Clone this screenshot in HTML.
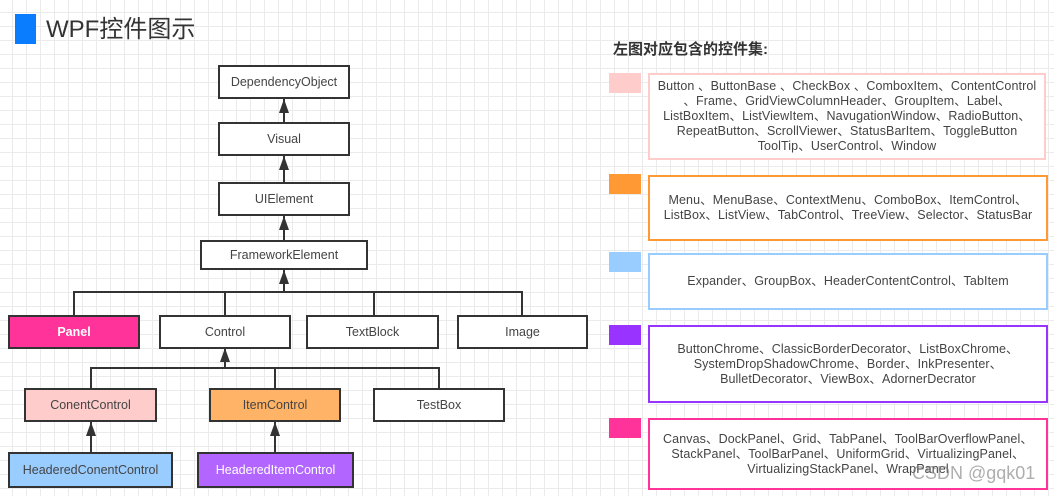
<!DOCTYPE html>
<html><head><meta charset="utf-8"><style>
body{margin:0;width:1054px;height:496px;overflow:hidden;background:#fff;
background-image:linear-gradient(#ebebeb 1px,transparent 1px),linear-gradient(90deg,#ebebeb 1px,transparent 1px);
background-size:14px 14px;background-position:0 12px, 12px 0;
font-family:"Liberation Sans","Noto Sans CJK SC",sans-serif;position:relative}
.b{position:absolute;box-sizing:border-box;border:2px solid #333;background:#fff;display:flex;align-items:center;justify-content:center;font-size:12.5px;color:#444}
.sw{position:absolute;width:32px;height:20px}
.r{position:absolute;box-sizing:border-box;border:2px solid;background:#fff;display:flex;align-items:center;justify-content:center;text-align:center;font-size:12.5px;color:#444;line-height:15px;white-space:nowrap;letter-spacing:0.1px}
</style></head><body>
<div style="position:absolute;left:15px;top:14px;width:21px;height:30px;background:#0a7dff"></div>
<div style="position:absolute;left:46px;top:14px;font-size:24px;color:#333;line-height:32px">WPF控件图示</div>

<svg style="position:absolute;left:0;top:0" width="600" height="496">
<g stroke="#333" stroke-width="2" fill="none">
<line x1="284" y1="99" x2="284" y2="122"/>
<line x1="284" y1="156" x2="284" y2="182"/>
<line x1="284" y1="216" x2="284" y2="240"/>
<line x1="284" y1="270" x2="284" y2="292"/>
<polyline points="74,315 74,292 522,292 522,315"/>
<line x1="225" y1="292" x2="225" y2="315"/>
<line x1="374" y1="292" x2="374" y2="315"/>
<line x1="225" y1="348" x2="225" y2="368"/>
<polyline points="91,388 91,368 439,368 439,388"/>
<line x1="275" y1="368" x2="275" y2="388"/>
<line x1="91" y1="422" x2="91" y2="452"/>
<line x1="275" y1="422" x2="275" y2="452"/>
</g>
<g fill="#333">
<polygon points="284,99 279,113 289,113"/>
<polygon points="284,156 279,170 289,170"/>
<polygon points="284,216 279,230 289,230"/>
<polygon points="284,270 279,284 289,284"/>
<polygon points="225,348 220,362 230,362"/>
<polygon points="91,422 86,436 96,436"/>
<polygon points="275,422 270,436 280,436"/>
</g></svg>

<div class="b" style="left:218px;top:65px;width:132px;height:34px">DependencyObject</div>
<div class="b" style="left:218px;top:122px;width:132px;height:34px">Visual</div>
<div class="b" style="left:218px;top:182px;width:132px;height:34px">UIElement</div>
<div class="b" style="left:200px;top:240px;width:168px;height:30px">FrameworkElement</div>
<div class="b" style="left:8px;top:315px;width:132px;height:34px;background:#ff3399;color:#fff;font-weight:bold">Panel</div>
<div class="b" style="left:159px;top:315px;width:132px;height:34px">Control</div>
<div class="b" style="left:306px;top:315px;width:133px;height:34px">TextBlock</div>
<div class="b" style="left:457px;top:315px;width:131px;height:34px">Image</div>
<div class="b" style="left:24px;top:388px;width:133px;height:34px;background:#ffcccc">ConentControl</div>
<div class="b" style="left:209px;top:388px;width:132px;height:34px;background:#ffb366">ItemControl</div>
<div class="b" style="left:373px;top:388px;width:132px;height:34px">TestBox</div>
<div class="b" style="left:8px;top:452px;width:165px;height:36px;background:#99ccff">HeaderedConentControl</div>
<div class="b" style="left:197px;top:452px;width:157px;height:36px;background:#b266ff;color:#fff">HeaderedItemControl</div>

<div style="position:absolute;left:613px;top:38px;font-size:15px;font-weight:bold;color:#333">左图对应包含的控件集:</div>

<div class="sw" style="left:609px;top:73px;background:#ffcccc"></div>
<div class="r" style="left:648px;top:73px;width:398px;height:87px;border-color:#ffcccc">Button 、ButtonBase 、CheckBox 、ComboxItem、ContentControl<br>、Frame、GridViewColumnHeader、GroupItem、Label、<br>ListBoxItem、ListViewItem、NavugationWindow、RadioButton、<br>RepeatButton、ScrollViewer、StatusBarItem、ToggleButton<br>ToolTip、UserControl、Window</div>
<div class="sw" style="left:609px;top:174px;background:#ff9933"></div>
<div class="r" style="left:648px;top:175px;width:400px;height:66px;border-color:#ff9933">Menu、MenuBase、ContextMenu、ComboBox、ItemControl、<br>ListBox、ListView、TabControl、TreeView、Selector、StatusBar</div>
<div class="sw" style="left:609px;top:252px;background:#99ccff"></div>
<div class="r" style="left:648px;top:253px;width:400px;height:57px;border-color:#99ccff">Expander、GroupBox、HeaderContentControl、TabItem</div>
<div class="sw" style="left:609px;top:325px;background:#9933ff"></div>
<div class="r" style="left:648px;top:325px;width:400px;height:78px;border-color:#9933ff">ButtonChrome、ClassicBorderDecorator、ListBoxChrome、<br>SystemDropShadowChrome、Border、InkPresenter、<br>BulletDecorator、ViewBox、AdornerDecrator</div>
<div class="sw" style="left:609px;top:418px;background:#ff3399"></div>
<div class="r" style="left:648px;top:418px;width:400px;height:72px;border-color:#ff3399">Canvas、DockPanel、Grid、TabPanel、ToolBarOverflowPanel、<br>StackPanel、ToolBarPanel、UniformGrid、VirtualizingPanel、<br>VirtualizingStackPanel、WrapPanel</div>
<div style="position:absolute;left:912px;top:463px;font-size:18px;color:rgba(120,120,120,0.6)">CSDN @gqk01</div>
</body></html>
